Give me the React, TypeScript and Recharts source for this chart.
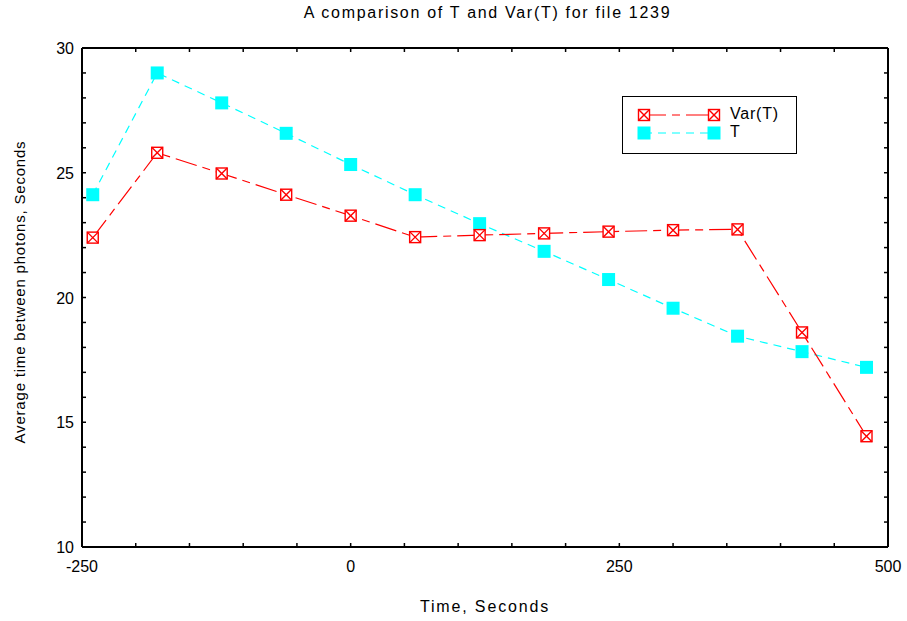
import React from "react";
import { LineChart, Line, XAxis, YAxis } from "recharts";

const times = [-240, -180, -120, -60, 0, 60, 120, 180, 240, 300, 360, 420, 480];
const varT = [22.4, 25.8, 24.97, 24.12, 23.28, 22.42, 22.5, 22.57, 22.64, 22.7, 22.73, 18.6, 14.44];
const tMean = [24.12, 29.0, 27.8, 26.58, 25.33, 24.12, 22.96, 21.85, 20.72, 19.57, 18.45, 17.83, 17.2];

const xTicks = [-250, -200, -150, -100, -50, 0, 50, 100, 150, 200, 250, 300, 350, 400, 450, 500];
const xLabels = [-250, 0, 250, 500];
const yTicks = [10, 11, 12, 13, 14, 15, 16, 17, 18, 19, 20, 21, 22, 23, 24, 25, 26, 27, 28, 29, 30];
const yLabels = [10, 15, 20, 25, 30];

const data = times.map((t, i) => ({ time: t, varT: varT[i], t: tMean[i] }));

const RED = "#ff0000";
const CYAN = "#00ffff";
const FONT = "'Liberation Sans', Arial, sans-serif";

function BoxX({ cx, cy }: any) {
  if (cx == null || cy == null) return null;
  const s = 5.5;
  return (
    <g stroke={RED} strokeWidth={1.4} fill="white">
      <rect x={cx - s} y={cy - s} width={s * 2} height={s * 2} />
      <line x1={cx - s} y1={cy - s} x2={cx + s} y2={cy + s} />
      <line x1={cx - s} y1={cy + s} x2={cx + s} y2={cy - s} />
    </g>
  );
}

function Square({ cx, cy }: any) {
  if (cx == null || cy == null) return null;
  const s = 6.5;
  return <rect x={cx - s} y={cy - s} width={s * 2} height={s * 2} fill={CYAN} />;
}

function makeTick(side: string) {
  return (props: any) => {
    const { x, y, payload } = props;
    const v = payload.value;
    const len = 4;
    let line;
    let label = null;
    if (side === "bottom") {
      line = <line x1={x} y1={y} x2={x} y2={y - len} stroke="#000" strokeWidth={1.5} />;
      if (xLabels.includes(v))
        label = (
          <text x={x} y={y + 25} textAnchor="middle" fontSize={16} fontFamily={FONT} fill="#000">
            {v}
          </text>
        );
    } else if (side === "top") {
      line = <line x1={x} y1={y} x2={x} y2={y + len} stroke="#000" strokeWidth={1.5} />;
    } else if (side === "left") {
      line = <line x1={x} y1={y} x2={x + len} y2={y} stroke="#000" strokeWidth={1.5} />;
      if (yLabels.includes(v))
        label = (
          <text x={x - 8} y={y + 6} textAnchor="end" fontSize={16} fontFamily={FONT} fill="#000">
            {v}
          </text>
        );
    } else {
      line = <line x1={x} y1={y} x2={x - len} y2={y} stroke="#000" strokeWidth={1.5} />;
    }
    return (
      <g>
        {line}
        {label}
      </g>
    );
  };
}

function LegendBox() {
  return (
    <div
      style={{
        position: "absolute",
        left: 622,
        top: 96,
        border: "1.5px solid #000",
        width: 175,
        height: 58,
        boxSizing: "border-box",
        background: "#fff",
        fontFamily: FONT,
        fontSize: 16,
      }}
    >
      <svg width={100} height={56} style={{ position: "absolute", left: 0, top: 0 }}>
        <line x1={21} y1={18} x2={91} y2={18} stroke={RED} strokeWidth={1.2} strokeDasharray="22 6 8 6" />
        <BoxX cx={21} cy={18} />
        <BoxX cx={91} cy={18} />
        <line x1={21} y1={36} x2={91} y2={36} stroke={CYAN} strokeWidth={1.2} strokeDasharray="8 6" />
        <Square cx={21} cy={36} />
        <Square cx={91} cy={36} />
      </svg>
      <div style={{ position: "absolute", left: 107, top: 8, letterSpacing: 0.8 }}>Var(T)</div>
      <div style={{ position: "absolute", left: 107, top: 26 }}>T</div>
    </div>
  );
}

export default function App() {
  return (
    <div style={{ position: "absolute", left: 0, top: 0, width: 907, height: 621, background: "#fff" }}>
      <LineChart width={907} height={621} data={data} margin={{ top: 47, right: 18, left: 0, bottom: 0 }}>
        <XAxis
          dataKey="time"
          type="number"
          domain={[-250, 500]}
          ticks={xTicks}
          interval={0}
          height={74}
          tickSize={0}
          tickMargin={0}
          axisLine={{ stroke: "#000", strokeWidth: 2 }}
          tick={makeTick("bottom")}
        />
        <XAxis
          xAxisId="top"
          dataKey="time"
          orientation="top"
          type="number"
          domain={[-250, 500]}
          ticks={xTicks}
          interval={0}
          height={1}
          tickSize={0}
          tickMargin={0}
          axisLine={{ stroke: "#000", strokeWidth: 2 }}
          tick={makeTick("top")}
        />
        <YAxis
          type="number"
          domain={[10, 30]}
          ticks={yTicks}
          interval={0}
          width={82}
          tickSize={0}
          tickMargin={0}
          axisLine={{ stroke: "#000", strokeWidth: 2 }}
          tick={makeTick("left")}
        />
        <YAxis
          yAxisId="right"
          orientation="right"
          type="number"
          domain={[10, 30]}
          ticks={yTicks}
          interval={0}
          width={1}
          tickSize={0}
          tickMargin={0}
          axisLine={{ stroke: "#000", strokeWidth: 2 }}
          tick={makeTick("right")}
        />
        <Line
          xAxisId="top"
          yAxisId="right"
          dataKey="t"
          stroke="none"
          dot={false}
          activeDot={false}
          isAnimationActive={false}
        />
        <Line
          dataKey="t"
          stroke={CYAN}
          strokeWidth={1.2}
          strokeDasharray="8 6"
          dot={<Square />}
          activeDot={false}
          isAnimationActive={false}
        />
        <Line
          dataKey="varT"
          stroke={RED}
          strokeWidth={1.2}
          strokeDasharray="22 6 8 6"
          dot={<BoxX />}
          activeDot={false}
          isAnimationActive={false}
        />
      </LineChart>
      <LegendBox />
      <div
        style={{
          position: "absolute",
          left: 0,
          width: 975,
          top: 4,
          textAlign: "center",
          fontFamily: FONT,
          fontSize: 16,
          letterSpacing: 1.7,
        }}
      >
        A comparison of T and Var(T) for file 1239
      </div>
      <div
        style={{
          position: "absolute",
          left: 0,
          width: 970,
          top: 598,
          textAlign: "center",
          fontFamily: FONT,
          fontSize: 16,
          letterSpacing: 1.85,
        }}
      >
        Time, Seconds
      </div>
      <div
        style={{
          position: "absolute",
          left: 19,
          top: 292,
          transform: "translate(-50%, -50%) rotate(-90deg)",
          whiteSpace: "nowrap",
          fontFamily: FONT,
          fontSize: 15,
          letterSpacing: 0.8,
        }}
      >
        Average time between photons, Seconds
      </div>
    </div>
  );
}
